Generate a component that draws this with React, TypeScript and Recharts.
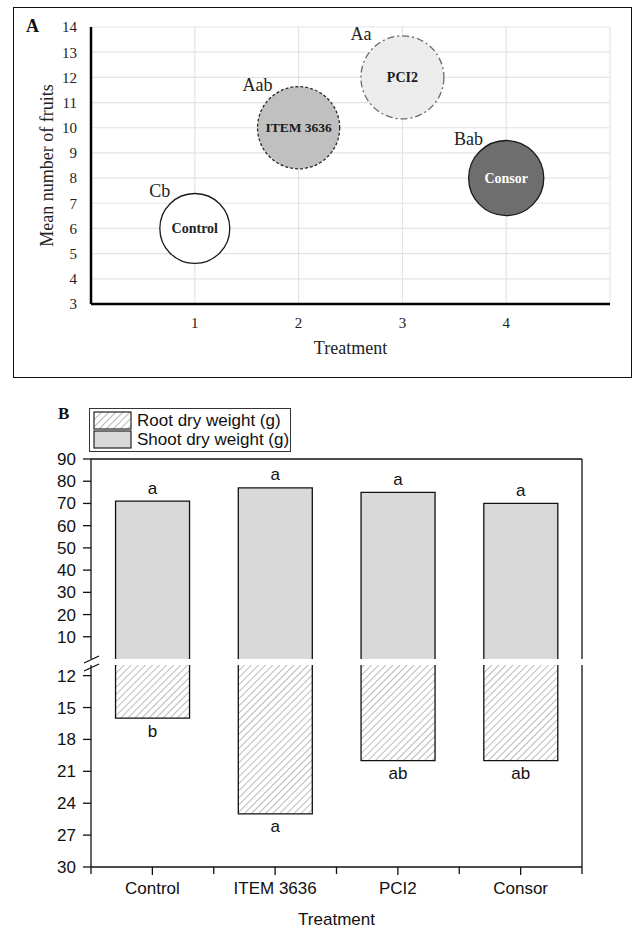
import React from "react";
import {
  Bar,
  BarChart,
  CartesianGrid,
  Label,
  LabelList,
  Scatter,
  ScatterChart,
  XAxis,
  YAxis,
  ZAxis,
} from "recharts";

const treatments = ["Control", "ITEM 3636", "PCI2", "Consor"];
const treatmentIndex = [1, 2, 3, 4];
const meanFruits = [6, 10, 12, 8];
const bubbleSize = [7.1, 9.8, 10, 8.2];
const fruitLetters = ["Cb", "Aab", "Aa", "Bab"];

const shootWeight = [71, 77, 75, 70];
const rootWeight = [16, 25, 20, 20];
const shootLetters = ["a", "a", "a", "a"];
const rootLetters = ["b", "a", "ab", "ab"];

const fruitTicksX = [1, 2, 3, 4, 5];
const fruitTicksY = [3, 4, 5, 6, 7, 8, 9, 10, 11, 12, 13, 14];
const shootTicks = [10, 20, 30, 40, 50, 60, 70, 80, 90];
const rootTicks = [12, 15, 18, 21, 24, 27, 30];

const SERIF = "'Liberation Serif', 'Times New Roman', serif";
const SANS = "'Liberation Sans', Arial, sans-serif";

const bubbleData = treatments.map((name, i) => ({
  x: treatmentIndex[i],
  y: meanFruits[i],
  z: bubbleSize[i],
  name,
  letter: fruitLetters[i],
  i,
}));

const shootData = treatments.map((name, i) => ({ name, shoot: shootWeight[i], letter: shootLetters[i] }));
const rootData = treatments.map((name, i) => ({ name, root: rootWeight[i], letter: rootLetters[i] }));

const bubbleStyles = [
  { fill: "#ffffff", stroke: "#1a1a1a", dash: undefined, text: "#222", size: 14 },
  { fill: "#c0c0c0", stroke: "#2a2a2a", dash: "3 2", text: "#1a1a1a", size: 13.5 },
  { fill: "#ececec", stroke: "#6a6a6a", dash: "7 3 2 3", text: "#1a1a1a", size: 14 },
  { fill: "#6e6e6e", stroke: "#1a1a1a", dash: undefined, text: "#ffffff", size: 14 },
];

const Bubble = (props: any) => {
  const { cx, cy, payload } = props;
  const r = props.size ? Math.sqrt(props.size / Math.PI) : props.width / 2;
  const s = bubbleStyles[payload.i];
  return (
    <g>
      <circle cx={cx} cy={cy} r={r} fill={s.fill} stroke={s.stroke} strokeWidth={1.3} strokeDasharray={s.dash} />
      <text x={cx} y={cy} textAnchor="middle" dominantBaseline="central" fontFamily={SERIF} fontWeight="bold" fontSize={s.size} fill={s.text}>
        {payload.name}
      </text>
      <text x={cx - r} y={cy - r - 2} textAnchor="middle" dominantBaseline="central" fontFamily={SERIF} fontSize={18} fill="#222">
        {payload.letter}
      </text>
    </g>
  );
};

// chart B geometry
const B_LEFT = 91;
const B_RIGHT = 51;
const B_PLOT_W = 633 - B_LEFT - B_RIGHT;

const OpenBottomShoot = (props: any) => {
  const { x, y, width, height, fill } = props;
  const top = Math.min(y, y + height);
  const bottom = Math.max(y, y + height);
  return (
    <g>
      <rect x={x} y={top} width={width} height={bottom - top} fill={fill} />
      <path d={`M${x},${bottom}V${top}H${x + width}V${bottom}`} fill="none" stroke="#111" strokeWidth={1.3} />
    </g>
  );
};

const OpenTopRoot = (props: any) => {
  const { x, y, width, height, fill } = props;
  const top = Math.min(y, y + height);
  const bottom = Math.max(y, y + height);
  return (
    <g>
      <rect x={x} y={top} width={width} height={bottom - top} fill={fill} />
      <path d={`M${x},${top}V${bottom}H${x + width}V${top}`} fill="none" stroke="#111" strokeWidth={1.3} />
    </g>
  );
};

const CatTick = (props: any) => {
  const { x, y, payload, index } = props;
  const band = B_PLOT_W / treatments.length;
  return (
    <g>
      <line x1={x} y1={y} x2={x} y2={y + 8} stroke="#111" strokeWidth={1.3} />
      <line x1={x - band / 2} y1={y} x2={x - band / 2} y2={y + 7} stroke="#111" strokeWidth={1.3} />
      {index === treatments.length - 1 && (
        <line x1={x + band / 2} y1={y} x2={x + band / 2} y2={y + 7} stroke="#111" strokeWidth={1.3} />
      )}
      <text x={x} y={y + 27} textAnchor="middle" fontFamily={SANS} fontSize={17} fill="#111">
        {payload.value}
      </text>
    </g>
  );
};

const bTick = { fontFamily: SANS, fontSize: 17, fill: "#111" };

// frame lines along the plot edges
const rightEdge = (p: any) => [p.offset.left + p.offset.width];
const topEdge = (p: any) => [p.offset.top];

const LegendBox = () => (
  <div
    style={{
      position: "absolute",
      left: 89,
      top: 408,
      width: 202,
      height: 44,
      boxSizing: "border-box",
      border: "1px solid #333",
      background: "#fff",
    }}
  >
    <svg width={200} height={42} style={{ position: "absolute", left: 0, top: 0 }}>
      <defs>
        <pattern id="hatchLegend" width="5" height="5" patternUnits="userSpaceOnUse" patternTransform="rotate(45)">
          <line x1="0" y1="0" x2="0" y2="5" stroke="#555" strokeWidth="0.8" />
        </pattern>
      </defs>
      <rect x={4} y={3} width={37} height={17} fill="url(#hatchLegend)" stroke="#222" strokeWidth={1.2} />
      <rect x={4} y={22} width={37} height={17} fill="#d9d9d9" stroke="#222" strokeWidth={1.2} />
      <text x={47} y={17} fontFamily={SANS} fontSize={17} fill="#111">Root dry weight (g)</text>
      <text x={47} y={36} fontFamily={SANS} fontSize={17} fill="#111">Shoot dry weight (g)</text>
    </svg>
  </div>
);

export default function App() {
  return (
    <div style={{ position: "absolute", left: 0, top: 0, width: 633, height: 930, background: "#fff" }}>
      {/* Panel A */}
      <div
        style={{
          position: "absolute",
          left: 13,
          top: 7,
          width: 619,
          height: 371,
          boxSizing: "border-box",
          border: "1.5px solid #111",
        }}
      />
      <div style={{ position: "absolute", left: 0, top: 0 }}>
        <ScatterChart width={633} height={380} margin={{ top: 27, right: 23, bottom: 0, left: 0 }}>
          <CartesianGrid stroke="#e4e4e4" strokeWidth={1.2} />
          <XAxis
            type="number"
            dataKey="x"
            domain={[0, 5]}
            ticks={fruitTicksX}
            tickFormatter={(v: number) => (v === 5 ? "" : String(v))}
            axisLine={{ stroke: "#000", strokeWidth: 2.5 }}
            tickLine={false}
            tickSize={0}
            tickMargin={13}
            height={76}
            tick={{ fontFamily: SERIF, fontSize: 15, fill: "#222" }}
          >
            <Label
              content={(p: any) => (
                <text
                  x={p.viewBox.x + p.viewBox.width / 2}
                  y={p.viewBox.y + 44}
                  textAnchor="middle"
                  dominantBaseline="central"
                  fontFamily={SERIF}
                  fontSize={18}
                  fill="#222"
                >
                  Treatment
                </text>
              )}
            />
          </XAxis>
          <YAxis
            type="number"
            dataKey="y"
            domain={[3, 14]}
            ticks={fruitTicksY}
            interval={0}
            axisLine={{ stroke: "#000", strokeWidth: 2.5 }}
            tickLine={false}
            tickSize={0}
            tickMargin={14}
            width={91}
            tick={{ fontFamily: SERIF, fontSize: 15, fill: "#222" }}
          >
            <Label
              content={(p: any) => {
                const cx = 47;
                const cy = p.viewBox.y + p.viewBox.height / 2;
                return (
                  <text
                    x={cx}
                    y={cy}
                    transform={`rotate(-90 ${cx} ${cy})`}
                    textAnchor="middle"
                    dominantBaseline="central"
                    fontFamily={SERIF}
                    fontSize={18}
                    fill="#222"
                  >
                    Mean number of fruits
                  </text>
                );
              }}
            />
          </YAxis>
          <ZAxis type="number" dataKey="z" domain={[0, 10]} range={[0, 5411]} />
          <Scatter data={bubbleData} shape={Bubble} isAnimationActive={false} />
        </ScatterChart>
      </div>
      <div style={{ position: "absolute", left: 26, top: 16, fontFamily: SERIF, fontWeight: "bold", fontSize: 18, color: "#111" }}>
        A
      </div>

      {/* Panel B */}
      <div style={{ position: "absolute", left: 58, top: 404, fontFamily: SERIF, fontWeight: "bold", fontSize: 17, color: "#111" }}>
        B
      </div>

      <div style={{ position: "absolute", left: 0, top: 400 }}>
        <BarChart
          width={633}
          height={270}
          data={shootData}
          margin={{ top: 59, right: B_RIGHT, bottom: 11, left: 0 }}
          barCategoryGap="20%"
        >
          <CartesianGrid
            stroke="#111"
            strokeWidth={1.3}
            verticalCoordinatesGenerator={rightEdge}
            horizontalCoordinatesGenerator={topEdge}
          />
          <XAxis dataKey="name" hide />
          <YAxis
            type="number"
            domain={[0, 90]}
            ticks={shootTicks}
            interval={0}
            width={B_LEFT}
            tickSize={8}
            tickMargin={7}
            axisLine={{ stroke: "#111", strokeWidth: 1.3 }}
            tickLine={{ stroke: "#111", strokeWidth: 1.3 }}
            tick={bTick}
          />
          <Bar dataKey="shoot" fill="#d9d9d9" shape={OpenBottomShoot} isAnimationActive={false}>
            <LabelList
              dataKey="letter"
              content={(p: any) => (
                <text
                  x={p.x + p.width / 2}
                  y={Math.min(p.y, p.y + p.height) - 13}
                  textAnchor="middle"
                  dominantBaseline="central"
                  fontFamily={SANS}
                  fontSize={17}
                  fill="#111"
                >
                  {p.value}
                </text>
              )}
            />
          </Bar>
        </BarChart>
      </div>

      <div style={{ position: "absolute", left: 0, top: 640 }}>
        <BarChart
          width={633}
          height={290}
          data={rootData}
          margin={{ top: 25, right: B_RIGHT, bottom: 0, left: 0 }}
          barCategoryGap="20%"
        >
          <defs>
            <pattern id="hatch" width="5" height="5" patternUnits="userSpaceOnUse" patternTransform="rotate(45)">
              <line x1="0" y1="0" x2="0" y2="5" stroke="#555" strokeWidth="0.8" />
            </pattern>
          </defs>
          <CartesianGrid stroke="#111" strokeWidth={1.3} horizontal={false} verticalCoordinatesGenerator={rightEdge} />
          <XAxis
            dataKey="name"
            height={63}
            interval={0}
            tickLine={false}
            tickSize={0}
            tickMargin={0}
            axisLine={{ stroke: "#111", strokeWidth: 1.3 }}
            tick={<CatTick />}
          >
            <Label
              content={(p: any) => (
                <text
                  x={p.viewBox.x + p.viewBox.width / 2}
                  y={p.viewBox.y + 52}
                  textAnchor="middle"
                  dominantBaseline="central"
                  fontFamily={SANS}
                  fontSize={17}
                  fill="#111"
                >
                  Treatment
                </text>
              )}
            />
          </XAxis>
          <YAxis
            type="number"
            reversed
            domain={[11, 30]}
            ticks={rootTicks}
            interval={0}
            width={B_LEFT}
            tickSize={8}
            tickMargin={7}
            axisLine={{ stroke: "#111", strokeWidth: 1.3 }}
            tickLine={{ stroke: "#111", strokeWidth: 1.3 }}
            tick={bTick}
          />
          <Bar dataKey="root" fill="url(#hatch)" shape={OpenTopRoot} isAnimationActive={false}>
            <LabelList
              dataKey="letter"
              content={(p: any) => (
                <text
                  x={p.x + p.width / 2}
                  y={Math.max(p.y, p.y + p.height) + 13}
                  textAnchor="middle"
                  dominantBaseline="central"
                  fontFamily={SANS}
                  fontSize={17}
                  fill="#111"
                >
                  {p.value}
                </text>
              )}
            />
          </Bar>
        </BarChart>
      </div>

      {/* axis break marks */}
      <svg width={40} height={30} style={{ position: "absolute", left: 72, top: 648 }}>
        <line x1={12} y1={15} x2={27} y2={8} stroke="#111" strokeWidth={1.3} />
        <line x1={12} y1={23} x2={27} y2={16} stroke="#111" strokeWidth={1.3} />
      </svg>

      <LegendBox />
    </div>
  );
}
